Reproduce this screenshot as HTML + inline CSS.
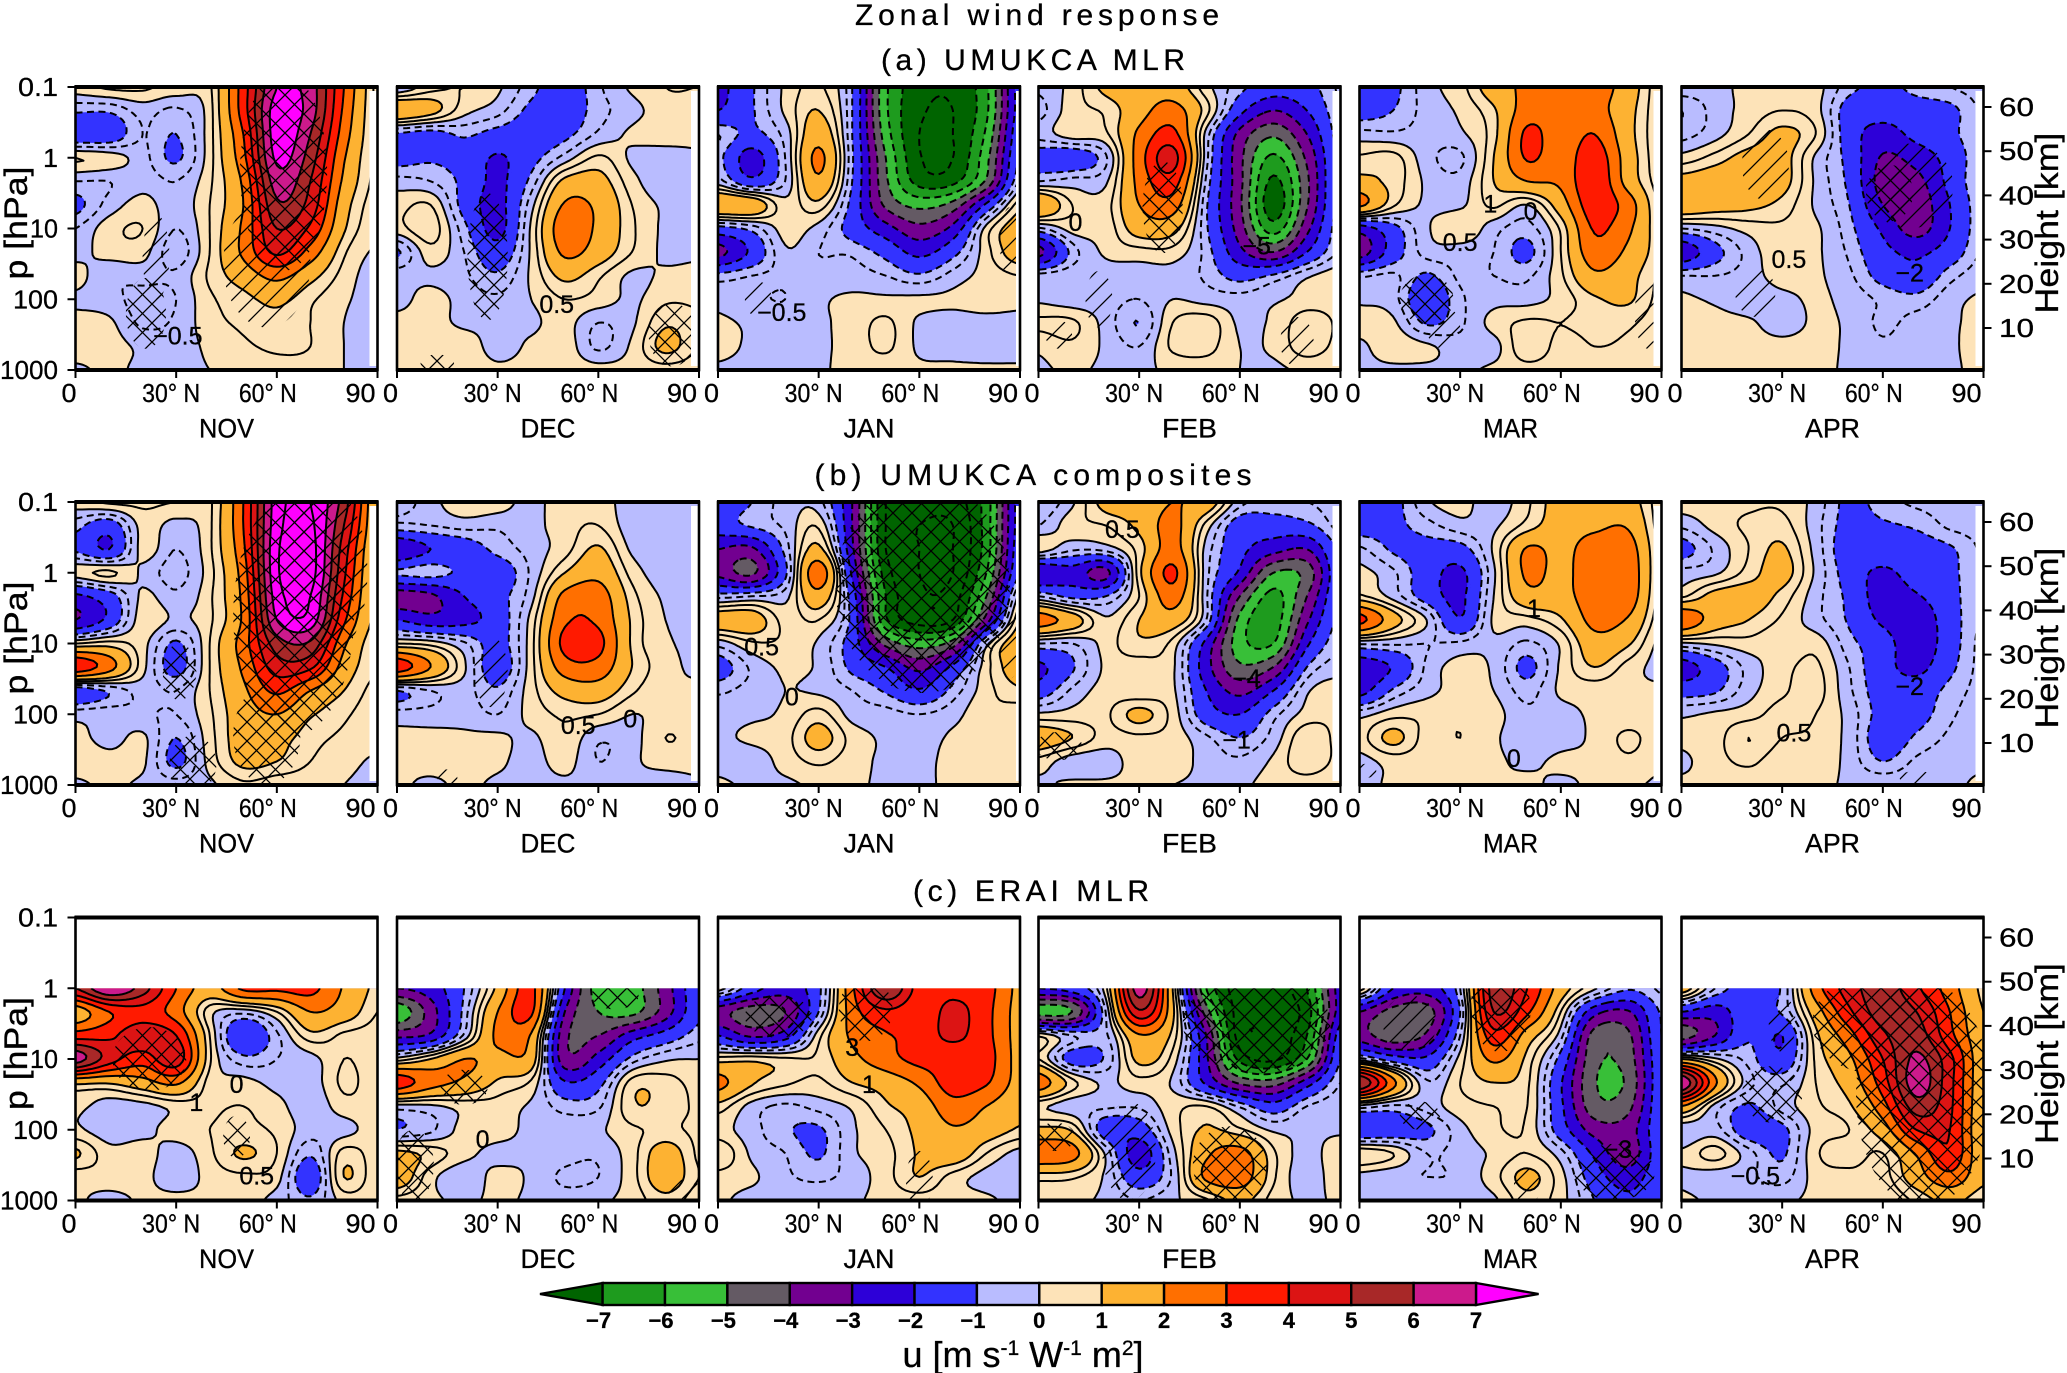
<!DOCTYPE html>
<html lang="en">
<head>
<meta charset="utf-8">
<title>Zonal wind response</title>
<style>
html,body{margin:0;padding:0;background:#fff;}
svg{display:block;}
text{font-family:"Liberation Sans",sans-serif;fill:#000;stroke:#000;stroke-width:.3px;}
</style>
</head>
<body>
<svg id="figure" xmlns="http://www.w3.org/2000/svg" width="2067" height="1373" viewBox="0 0 2067 1373">
<defs>
<pattern id="hatch-single" patternUnits="userSpaceOnUse" width="19" height="19"><path d="M-2 21L21 -2M-2 2L2 -2M17 21L21 17" stroke="#000" stroke-width="1.3" fill="none"/></pattern>
<pattern id="hatch-cross" patternUnits="userSpaceOnUse" width="19" height="19"><path d="M-2 21L21 -2M-2 2L2 -2M17 21L21 17M-2 -2L21 21M-2 17L2 21M17 -2L21 2" stroke="#000" stroke-width="1.3" fill="none"/></pattern>
</defs>
</svg>
<script>
/* Axes */
const latitudes = [0,10,20,30,40,50,60,70,80,90];
const pressureFull = [0.1,0.215,0.464,1,2.15,4.64,10,21.5,46.4,100,215,464,1000];
const pressureErai = [1,2.15,4.64,10,21.5,46.4,100,215,464,1000];
const months = ["NOV","DEC","JAN","FEB","MAR","APR"];
const rowTitles = ["(a) UMUKCA MLR","(b) UMUKCA composites","(c) ERAI MLR"];
const latTicks = [0,30,60,90];
const latTickLabels = ["0","30° N","60° N","90"];
const pressureTicks = [0.1,1,10,100,1000];
const pressureTickLabels = ["0.1","1","10","100","1000"];
const heightTicks = [10,20,30,40,50,60];
const bandEdges = [-7,-6,-5,-4,-3,-2,-1,0,1,2,3,4,5,6,7];
const contourLevels = [-12,-11,-10,-9,-8,-7,-6,-5,-4,-3,-2,-1,-0.5,0,0.5,1,2,3,4,5,6,7,8,9,10];

/* Row (a) UMUKCA MLR: rows follow pressureFull, columns follow latitudes */
const aNov = [
[.3,.6,.6,.3,.4,3.5,7,6.5,3,.3],
[-.9,-.9,-.3,-.6,.3,3.5,7.5,6.5,2.8,.3],
[-1.7,-1.6,-.5,-1,.3,3,7.5,6,2.5,.3],
[.5,.3,-.3,-1.1,.3,2.7,7.2,5.5,2.1,.3],
[-.5,-.5,-.2,-.5,.4,2.2,6.5,5,1.8,.3],
[-1.2,-.3,.2,-.3,.5,2,5.8,4.6,1.4,.2],
[-.5,.3,.5,-.5,.5,2.2,5,3.8,1.1,.1],
[-.2,.2,.2,-.8,.5,2.2,4.2,2.6,.6,-.1],
[.2,-.4,-.3,-.4,.6,1.4,2.3,1.3,.3,-.3],
[-.1,-.3,-.7,-.5,.4,.8,1.2,.6,.1,-.3],
[.2,.1,-.6,-.4,.3,.6,.8,.5,0,-.4],
[.3,.2,-.1,-.2,.1,.4,.6,.5,0,-.3],
[-.1,.1,-.1,-.1,0,.1,.3,.3,0,-.2]];
const aDec = [
[-.5,.3,.5,.1,-.8,-1.5,-.6,.1,.5,.5],
[1.8,1.3,.2,-.3,-1.2,-1.5,-.7,-.2,.3,.3],
[-1.1,-1.3,-.9,-1.3,-1.5,-1.2,-.4,.1,.3,.2],
[-1.3,-1.1,-1.3,-2.1,-1.3,-.3,.6,-.1,-.3,-.1],
[-.3,-.5,-1.2,-2.2,-.8,1.2,1.3,.2,-.4,-.1],
[.3,.5,-1.3,-2.3,-.2,2.1,1.8,.5,-.1,-.1],
[.3,.8,-.8,-2.3,.1,2.6,1.8,.6,-.1,-.1],
[-1.1,.3,-.5,-1.6,.1,2.2,1.5,.5,-.1,-.1],
[-.2,-.1,-.4,-.9,.1,1.2,.6,-.1,.1,.2],
[-.2,.2,-.2,-.4,0,.5,.3,-.1,.4,.4],
[.2,.2,-.1,-.1,-.1,.2,-.5,-.1,.9,.6],
[.3,.3,.3,-.2,.1,.3,-.6,.1,1.2,.5],
[.3,.3,.3,.1,.2,.3,.2,.2,.3,.2]];
const aJan = [
[-2.3,-1.1,.1,.6,-1,-5.8,-7.6,-7.8,-6.2,-1.5],
[-2,-1.1,.1,1,-1,-5.8,-7.8,-8,-6.2,-1.5],
[-.5,-1.2,-.3,1.6,-1,-5.5,-8,-8,-5.8,-1.2],
[-.8,-2.4,-.5,2.2,-.9,-5,-7.9,-8,-5.3,-.9],
[-.3,-1.7,-.5,1.8,-1,-4.8,-7.4,-7.3,-4.8,-.4],
[1.9,1.7,.2,.8,-1.3,-4.2,-5.3,-4.6,-1.8,.8],
[-1.3,-.8,.2,-.2,-1.4,-2.6,-3.7,-2.7,.2,1.5],
[-3.3,-1.8,-.1,-.5,-.6,-1.3,-2.3,-1.3,.3,1.5],
[-.8,-.5,-.4,-.3,-.3,-.5,-.9,-.3,.2,.5],
[-.2,-.4,-.5,-.1,.1,.1,.1,.1,.3,.2],
[.1,-.1,-.3,-.1,.2,.6,-.1,-.2,-.2,-.2],
[.2,-.1,-.2,-.1,.2,.6,-.1,-.2,-.3,-.3],
[-.1,-.2,-.2,-.1,.2,.2,.1,.1,.1,.1]];
const aFeb = [
[-.4,.2,1.2,1.5,1.5,.2,-.8,-1.5,-1.3,-.4],
[-.7,.3,.6,1.6,2.4,.7,-1.7,-3,-2,-.5],
[-.3,.3,.4,2.2,3.3,-.2,-3.3,-4.8,-3,-.6],
[-1.4,-1.6,-.6,2.5,4.4,-.3,-3.7,-6.2,-3.8,-.7],
[-.5,-.3,-.1,2.3,3.5,-.6,-3.7,-7.2,-4.2,-.6],
[2,.5,.3,2,2.5,-.9,-3.8,-7.6,-4.1,-.6],
[-.6,.2,.2,1.4,1.3,-.9,-3.5,-6.5,-3.3,-.5],
[-3.3,-.8,.1,.3,.3,-.7,-2.7,-4,-2,-.4],
[-.3,-.2,-.3,-.3,-.2,-.6,-1.3,-.9,-.1,.3],
[-.1,-.3,-.3,-.5,0,-.2,-.3,-.1,.2,.3],
[.6,.6,-.2,-1,.5,.8,-.1,.1,.8,.4],
[.1,.4,-.1,-.5,.6,.7,0,.1,.8,.3],
[-.1,.1,-.1,-.1,.1,.2,0,-.1,.1,0]];
const aMar = [
[-1.5,-1.2,-.2,.3,1.5,2.2,2.5,2.5,1.5,.1],
[-1.4,-1,-.3,.1,.9,2.5,2.5,2.4,1.3,.1],
[-.3,-.4,-.3,-.1,.8,3.2,2.4,3,1.3,.1],
[.6,.7,-.3,-.6,1,3.1,2.4,3.6,1.5,.1],
[1.2,.8,-.1,-.3,1,2,2.2,3.8,1.6,.2],
[2.2,.6,-.1,-.1,.6,0,1.5,3.6,2.5,.3],
[-2.5,-1.3,-.1,.5,-.3,-.7,.6,3.1,2.2,.5],
[-3.5,-1.5,-.3,-.3,-.5,-1.2,.5,2.6,1.8,.6],
[-.6,-.4,-1.1,-.4,-.5,-.6,.4,1.8,1.3,.4],
[-.1,-.3,-1.7,-.6,-.2,-.2,.2,.9,1.1,.3],
[.2,.1,-1.1,-.6,.2,.6,.5,.7,.6,.2],
[-.1,.3,.1,-.3,-.2,.9,.3,.5,.4,.1],
[-.1,-.1,-.1,-.1,.1,.3,.2,.3,.3,0]];
const aApr = [
[-.2,-.2,.2,.3,.2,-.8,-1.2,-.8,-.5,-.3],
[-1,-.3,.2,.5,.2,-1.4,-1.6,-1.4,-1.2,-.4],
[-.7,-.2,.5,1.2,.5,-1.5,-2.4,-1.7,-1.2,-.5],
[.2,.7,1.3,1.3,-.1,-1.3,-3.1,-2.6,-1.6,-.5],
[1.3,1.5,1.6,1.3,-.1,-1.2,-3.4,-3.3,-1.7,-.4],
[1.7,1.4,1.2,.8,-.1,-1,-3,-3.6,-2,-.5],
[-.5,-.2,.2,.4,.1,-.8,-2.2,-3.4,-2,-.5],
[-2.7,-1.3,-.3,.4,.1,-.6,-1.7,-2.2,-1.5,-.4],
[-.5,-.5,-.3,.3,.1,-.4,-1.3,-1.7,-.7,-.2],
[.1,-.1,-.4,-.2,.1,-.2,-.6,-.8,-.2,.1],
[.2,.2,.1,-.3,.1,-.1,-.6,-.3,-.1,.2],
[.2,.2,.2,.2,.2,-.1,-.4,-.2,-.1,.3],
[0,.2,.2,.2,.2,-.1,-.1,-.1,-.1,.2]];

/* Row (b) UMUKCA composites */
const bNov = [
[.3,.6,.6,.5,.4,3,7.5,8,5.5,1],
[-.8,-1.5,.2,-.2,.4,3,7.6,8.2,5,1],
[-1.1,-2,.2,-.5,.4,2.8,7.8,8.4,4.5,.8],
[.3,.6,-.1,-.7,.3,2.5,7.8,8.4,4.2,.7],
[-2.2,-1.4,.1,-.4,.4,2.3,7.5,8,3.8,.7],
[-3,-1.7,.3,-.1,.4,2.2,7,7.6,3.2,.7],
[.5,.7,.2,-1.1,.5,2.5,5.5,5.8,2.2,.5],
[3.7,2.4,.2,-1.3,.5,2.2,4.5,4.2,1.6,.5],
[-1.5,-.9,-.3,-.5,.5,1.8,3.2,2,1,.3],
[-.2,-.2,-.4,-.5,.4,1.5,2,1.1,.6,.2],
[.2,-.2,.1,-1,.3,1.4,1.3,.7,.4,.2],
[.3,.2,.1,-1.2,.2,1.2,1,.5,.2,-.1],
[-.1,.1,-.1,-.3,-.1,.4,.2,.2,0,-.2]];
const bDec = [
[-.8,-.2,.4,.3,-.2,.4,.3,-.3,-.3,-.3],
[-.6,-.5,-.3,-.4,-.2,.3,.5,-.3,-.3,-.2],
[-3,-2,-1.5,-.8,-.3,.3,1.1,-.1,-.3,-.2],
[-.9,-.7,-1.2,-1.5,-.4,1,1.7,.3,-.3,-.2],
[-3.5,-3.2,-2,-1.3,-.2,2.3,2.5,.7,-.1,-.2],
[-2,-2.6,-2.3,-1.5,.2,2.8,2.8,.9,0,-.1],
[.5,.3,-.4,-1.3,.3,3.3,3.3,.9,.1,-.1],
[3.6,2,.1,-1.5,.3,2.5,2.6,1,.2,-.1],
[-1,-.5,-.3,-.9,.3,1.3,1.5,.6,.1,.1],
[-.3,-.3,-.2,-.5,.2,.6,.5,0,.2,.2],
[.2,.2,.1,.1,-.1,.4,-.4,-.2,.5,.3],
[.1,.2,.2,.1,-.2,.2,-.5,-.1,.2,.2],
[.1,-.1,.1,-.1,-.2,-.1,-.1,-.1,-.3,-.1]];
const bJan = [
[-1.6,-1,-.3,-.3,-3,-8,-8.5,-8.5,-6.5,-1.5],
[-1.4,-.9,-.4,.4,-3,-8,-9,-9,-6.5,-1.5],
[-3,-3.2,-.8,1.2,-2.8,-8,-9,-9,-6.5,-1.3],
[-3.3,-4.2,-1.2,2.6,-2.2,-7.5,-9,-9,-6,-1],
[-.7,-.5,-.2,1.6,-1.5,-7,-8.8,-8.5,-5,.2],
[1.5,1.5,.3,.5,-1.3,-6.8,-8.5,-8,-3.5,1],
[-.3,.4,.4,-.1,-1.5,-4.3,-5.5,-4.5,-.2,1.6],
[-1.4,-.4,.1,-.1,-1.2,-2,-3.3,-1.8,.3,1.5],
[-.6,-.3,0,-.1,-.5,-1.1,-1.9,-.8,.3,.9],
[-.2,-.1,.1,.7,-.2,-.3,-.5,-.2,.4,.2],
[-.1,.1,.3,1.3,.3,-.1,-.3,.1,.2,.2],
[-.2,-.3,.2,.6,.2,-.1,-.2,.2,.2,.2],
[.1,-.1,-.1,.1,.1,-.1,-.1,.1,.1,0]];
const bFeb = [
[-1,-.1,1.3,1.4,2,1.6,-.3,-.6,-.5,-.3],
[-.5,.3,.5,1.2,2.3,.3,-1.5,-1.5,-1.2,-.3],
[.3,-.4,-.3,.7,2.4,-.2,-1.7,-2.6,-3,-.8],
[-3,-2.4,-3.3,.8,3.2,-.3,-2.2,-5,-4.6,-1],
[-.5,-1.2,-1,.5,2.5,-.4,-4,-6.3,-4,-.9],
[2.5,1.5,.1,1,1.5,-.5,-5.3,-6.5,-3.2,-.7],
[-.5,-.5,.2,.9,.3,-2.3,-5.6,-6,-2.2,-.5],
[-2.2,-1.1,.1,.2,.1,-2.6,-4.8,-4,-1,-.2],
[-1.5,-.4,.2,.1,.1,-2,-3.3,-2,-.1,.3],
[.1,.2,.4,1.2,.3,-1.5,-2,-.7,.2,.4],
[1.5,1,.3,.4,.3,-.4,-1,-.3,.9,.3],
[.3,-.3,-.3,.3,.3,-.2,-.4,.1,.9,.3],
[-.1,.1,.1,.1,0,-.1,-.1,.2,.2,0]];
const bMar = [
[-1.5,-1.3,-.1,.2,-.3,.4,1.4,1.5,1.4,.2],
[-1.4,-1.2,-.7,-.2,-.1,.7,1.5,1.8,1.9,.2],
[-.4,-1.1,-1.3,-1.3,.1,2.1,1.7,2.5,2.5,.3],
[.2,-.4,-1.5,-2.2,-.1,2.2,1.7,2.7,2.7,.3],
[.6,-.2,-1.4,-2.2,0,1.6,1.6,2.6,2.6,.2],
[3.3,1.4,0,-1.9,.1,.3,.9,2.3,1.9,.1],
[-.4,-.4,-.5,-.4,-.1,-.6,.1,1.6,1.1,-.2],
[-2.7,-1.9,-.4,.2,-.1,-1.2,.1,1,.3,-.2],
[-2.4,-.9,-.2,.2,0,-.7,.1,.2,.1,.1],
[-.2,.3,.4,.4,.2,-.4,-.2,.1,.2,.2],
[.3,1.2,.3,.5,.1,-.4,-.2,.1,.6,.2],
[-.2,.2,.2,.3,.1,-.1,.1,.1,.4,.1],
[-.2,.1,.2,.2,0,.1,-.1,.1,.1,-.1]];
const bApr = [
[.3,.3,.4,.4,-.2,-1.2,-.7,-.4,-.3,-.2],
[-.4,.2,.6,.7,-.3,-1.3,-1.1,-.9,-.4,-.3],
[-1.3,-.4,.5,1.1,-.2,-1.5,-1.3,-1.4,-1.1,-.4],
[-.3,-.1,.7,1.3,-.1,-1.4,-2.2,-1.5,-1.2,-.4],
[.4,1.3,1.4,.8,-.3,-1.2,-2.5,-2.1,-1.3,-.4],
[2.9,1.5,1,.4,-.3,-1.1,-2.2,-2.7,-1.4,-.4],
[-.1,.1,.3,.1,.3,-.8,-1.5,-2.7,-1.4,-.3],
[-2.5,-1.4,-.3,.3,.6,-.5,-1.6,-2.3,-1.2,-.3],
[-1.4,-1.1,-.2,.4,.7,-.4,-1.4,-1.5,-.8,-.3],
[-.1,.1,.3,.7,.5,-.2,-1.3,-1.3,-.6,-.2],
[.1,.3,1,.5,.4,-.2,-1.5,-.9,-.4,-.2],
[-.1,.3,.6,.2,.4,-.2,-1,-.4,-.2,-.1],
[.1,.1,.2,.2,.2,-.1,-.1,-.1,-.1,.1]];

/* Row (c) ERAI MLR: rows follow pressureErai */
const cNov = [
[5,7,5.5,3,1.6,3.2,3.2,3.3,1.9,.8],
[1.4,3,3.6,2.5,.2,-.3,.5,2,1.5,.5],
[3.5,3.8,4.6,4,.5,-1.9,-.6,.8,.4,.3],
[6.5,4.5,3.5,4.6,.6,-.8,-.5,-.2,.5,.2],
[1.2,1.1,1.6,2.2,.3,.2,-.2,-.3,.6,.2],
[.2,-.3,-.2,.2,.4,.5,.2,-.4,.3,.3],
[.1,-.3,-.2,.3,.5,.6,.4,-.3,-.2,.3],
[1.1,.2,.3,-.3,.4,1.1,.5,-.9,.7,.2],
[.2,.3,.2,-.4,.2,.4,.2,-1.6,1,.1],
[.1,-.2,.1,.2,.1,.2,-.2,-.9,.2,.1]];
const cDec = [
[-3,-2.5,-1,1.2,3.3,-2,-5.5,-5.5,-3.5,-1.2],
[-5.8,-3.5,-.8,2,3.2,-3,-5,-5.3,-3.5,-1.2],
[-3.3,-2.8,-.4,2.2,1.9,-3.7,-4,-2.5,-1.6,-.7],
[.2,1,2,1.7,1.5,-3.6,-2.6,-.8,-.1,0],
[3.6,2.4,1.8,.9,.4,-1.9,-1.3,.7,.7,.3],
[-.2,-.1,.2,.3,-.1,-.7,-.6,.9,.8,.4],
[-1,-.6,.2,.3,-.2,-.3,-.1,.4,.6,.4],
[1.2,.8,.2,-.2,-.1,-.3,-.4,.3,1.4,.4],
[1.6,.2,-.4,.2,-.1,-.6,-.5,.3,1.5,.5],
[.3,.1,-.1,.1,-.1,-.3,-.1,.2,.8,.2]];
const cJan = [
[.3,-1.5,-2.5,-1.2,2.8,6,3.6,3.7,3.4,1.7],
[-3.6,-4.5,-4,-1,2.5,3.8,3.3,4.3,3.3,1.6],
[-2,-3.2,-2.5,.3,2.2,2.9,3.4,4.2,3.3,1.6],
[.7,.8,.6,.6,1.7,2.6,3.3,3.4,3.4,1.6],
[2.3,1.1,.6,.4,1,1.4,2.2,3.5,3.1,1.6],
[.8,-.2,-.6,-.3,.1,.9,1.4,2.6,2,1.2],
[.2,-.3,-.9,-1.1,-.1,.5,1.2,1.9,1.5,.9],
[1,-.1,-.5,-1.1,-.1,.3,1.1,1.6,.5,-.2],
[.3,.1,-.4,-.6,-.3,.3,1,.3,-.2,-.4],
[.1,-.2,-.2,-.2,-.1,.2,.3,.2,.1,-.2]];
const cFeb = [
[-2,-1.5,.3,6.5,1,-6,-8.5,-8.5,-7,-2.5],
[-5.5,-5,-.5,4.8,1.2,-4.5,-8.5,-8.5,-7.5,-2.5],
[.4,-.5,-.6,1.9,.8,-3,-8.5,-8.5,-7,-1.5],
[.5,-1.4,-.9,1.2,.3,-2.8,-7.3,-8.2,-6,-1],
[2.6,.7,-.1,.3,-.1,-2.2,-4.2,-4.5,-2.5,-.5],
[.1,-.3,-.4,-.4,.3,.5,-.6,-1.6,-.5,-.2],
[1.2,.9,-1.5,-1.5,.2,1.1,.6,-.1,-.1,-.1],
[2.8,2.4,-.1,-2.5,-.2,1.8,2.4,.6,-.2,.4],
[.7,.6,-.1,-1.6,-.4,2.2,2.6,.6,-.3,.4],
[.1,.1,-.1,-.5,-.1,.4,1.2,.3,-.1,.1]];
const cMar = [
[.8,-2,-2.5,-.5,5.5,4,1.5,.1,-.9,-.4],
[-3,-4.4,-4.5,-1,5,3.2,.5,-2.6,-3.1,-.9],
[-3.5,-4.7,-3.8,-.5,3.6,1.5,-.3,-4.4,-4.2,-1],
[-.3,-1.5,-1.8,.2,2.2,.8,-1.3,-4.7,-4.5,-1.2],
[6,2.3,-.4,.5,1,.6,-1.9,-4.9,-4.8,-1.2],
[-.2,-.6,-.3,.3,.5,.5,-1.8,-4.6,-4.3,-1.2],
[-1.8,-1.6,-1.2,-.2,.4,.4,-1.5,-3.4,-3.5,-1.2],
[.9,.5,-.5,-.3,.1,.5,-.3,-2.2,-3.6,-1.3],
[-.2,-.4,-.5,-.4,.3,1.2,.2,-1.5,-2.5,-1.3],
[-.1,-.1,-.2,-.3,-.1,.8,.2,-1,-1.8,-1.1]];
const cApr = [
[1.5,-.5,-1.4,-.9,2.5,4.5,5.5,4.2,2.5,.8],
[-2,-2.5,-1.2,-.9,1.5,3.8,5.5,5,3,1],
[-4.5,-3,-1.1,-2,.8,2.6,4.8,5.5,3.3,1.2],
[1,.1,-.7,-1.7,.6,1.8,4,6.2,4.3,1.2],
[7,2.2,-.3,-.6,.5,1.4,3.5,6.5,4.3,1.2],
[2,-.2,-1.1,-.3,.4,.9,2.6,5.5,4.2,1.1],
[-.4,-.3,-1.5,-1.2,.2,.5,1.5,4,4,1],
[.1,.7,-.3,-1.1,.4,.8,.5,2.1,3.8,1.1],
[-.1,-.3,-.4,-.7,.2,.3,.3,1.5,2.7,1.2],
[.1,-.1,-.2,-.1,.1,.1,.1,.6,1.2,.6]];

/* Significance regions: latitude, log10(p), latitude radius, log10(p) radius, crossed */
const aNovSig = [[62,.2,13,1.4,1],[57,1.5,13,.9,0],[21,2.2,6,.5,1],[24,1.4,4,.6,0]];
const aDecSig = [[27,1.4,6,.9,1],[82,2.5,7,.45,1],[12,2.9,5,.12,1]];
const aJanSig = [[87,1.2,3,.5,0],[12,2,4,.25,0]];
const aFebSig = [[37,.7,6,.65,1],[18,2,4,.4,0],[6,2.5,4,.2,0],[77,2.6,5,.35,0]];
const aMarSig = [[20,2,8,.35,1],[25,2.4,5,.3,0],[86,2.2,4,.5,0]];
const aAprSig = [[25,.1,7,.5,0],[68,.4,13,.6,0],[62,.5,7,.4,1],[22,1.9,6,.35,0]];
const bNovSig = [[65,.6,18,1.7,1],[57,2.3,10,.7,1],[31,1.4,5,.4,1],[35,2.7,7,.4,1],[75,0,12,1.2,0]];
const bDecSig = [[28,1.4,5,.5,0],[15,2.9,3,.12,0]];
const bJanSig = [[61,.2,26,1.5,1],[87,1,3,.5,0]];
const bFebSig = [[6,2.45,7,.2,1]];
const bMarSig = [[2,2.8,3,.1,0]];
const bAprSig = [[70,2.9,5,.1,0]];
const cNovSig = [[22,1,11,.45,1],[48,2.1,4,.3,1]];
const cDecSig = [[20,1.4,7,.25,1],[5,2.5,6,.5,1],[65,.1,7,.2,1],[86,2.9,5,.2,0]];
const cJanSig = [[44,.3,8,.45,1],[18,.4,10,.3,1],[60,2.7,4,.4,0]];
const cFebSig = [[65,.5,22,.7,1],[5,2.1,6,.2,1],[27,2.3,8,.7,0],[57,2.5,11,.55,1]];
const cMarSig = [[42,.3,9,.6,1],[15,.5,8,.4,0],[18,1.8,6,.2,1],[76,2.6,12,.4,1],[50,2.8,4,.25,0]];
const cAprSig = [[72,1.5,20,1.6,1],[57,.5,18,.7,1],[30,.5,4,.4,0],[27,1.5,9,.4,1]];

/* Printed contour labels: latitude, log10(p), text */
const aNovLabels = [[30.5,2.51,"−0.5"]];
const aDecLabels = [[47.6,2.07,"0.5"]];
const aJanLabels = [[19,2.18,"−0.5"]];
const aFebLabels = [[11,.91,"0"],[65,1.24,"−5"]];
const aMarLabels = [[39,.65,"1"],[51,.75,"0"],[30,1.19,"0.5"]];
const aAprLabels = [[32,1.43,"0.5"],[68,1.62,"−2"]];
const bNovLabels = [];
const bDecLabels = [[54,2.15,"0.5"],[69.5,2.06,"0"]];
const bJanLabels = [[13,1.04,"0.5"],[22,1.75,"0"]];
const bFebLabels = [[25,-.62,"0.5"],[62,1.49,"−4"],[59,2.36,"−1"]];
const bMarLabels = [[52,.5,"1"],[46,2.62,"0"]];
const bAprLabels = [[68,1.6,"−2"],[33.5,2.26,"0.5"]];
const cNovLabels = [[36,1.61,"1"],[48,1.35,"0"],[54,2.65,"0.5"]];
const cDecLabels = [[25.5,2.13,"0"]];
const cJanLabels = [[40,.83,"3"],[45,1.35,"1"]];
const cFebLabels = [];
const cMarLabels = [[77,2.27,"−3"]];
const cAprLabels = [[22,2.65,"−0.5"]];

/* Layout and styling */
const bandColors = ["#1e9b1e","#38bf38","#645a64","#720090","#2d00d8","#3333ff","#b9bcff","#fde3b8","#fdb232","#ff6f00","#ff1a00","#dc1414","#a82828","#cc1a8c","#ff00ff"];
const belowColor = "#006400";
const panelLefts = [75.5,397,718,1038.5,1359.5,1681.5];
const rowTops = [87,502,917.5];
const panelW = 302, panelH = 283;
const latTickOffsets = [-6.5,-5,-9,-17];
const latTickWidths = [15,58,58,30];
const pressureTickWidths = [40,15,28,45,58];

const rowsOfPanels = [
 {grids:[aNov,aDec,aJan,aFeb,aMar,aApr],sig:[aNovSig,aDecSig,aJanSig,aFebSig,aMarSig,aAprSig],labels:[aNovLabels,aDecLabels,aJanLabels,aFebLabels,aMarLabels,aAprLabels],levels:pressureFull},
 {grids:[bNov,bDec,bJan,bFeb,bMar,bApr],sig:[bNovSig,bDecSig,bJanSig,bFebSig,bMarSig,bAprSig],labels:[bNovLabels,bDecLabels,bJanLabels,bFebLabels,bMarLabels,bAprLabels],levels:pressureFull},
 {grids:[cNov,cDec,cJan,cFeb,cMar,cApr],sig:[cNovSig,cDecSig,cJanSig,cFebSig,cMarSig,cAprSig],labels:[cNovLabels,cDecLabels,cJanLabels,cFebLabels,cMarLabels,cAprLabels],levels:pressureErai}
];

const NS = "http://www.w3.org/2000/svg";
const svg = document.getElementById("figure");

function mk(tag, parent, attrs){
  const e = document.createElementNS(NS, tag);
  for (const k in attrs) e.setAttribute(k, attrs[k]);
  parent.appendChild(e);
  return e;
}
function addText(parent, str, x, y, size, anchor, width, name, rotate, adjust){
  const t = mk("text", parent, {x:x, y:y, "font-size":size, "text-anchor":anchor});
  
  
  if (width) { t.setAttribute("textLength", width); t.setAttribute("lengthAdjust", adjust || "spacingAndGlyphs"); }
  if (rotate) t.setAttribute("transform", "rotate(" + rotate + " " + x + " " + y + ")");
  t.textContent = str;
  return t;
}

function xScale(left, lat){ return left + lat / 90 * panelW; }
function yScale(top, logP){ return top + (logP + 1) / 4 * panelH; }
function heightScale(top, km){ return top + 20 + (60 - km) * 4.42; }

function cr(a,b,c,d,t){
  return 0.5*(2*b+(c-a)*t+(2*a-5*b+4*c-d)*t*t+(3*b-a-3*c+d)*t*t*t);
}
function sampleGrid(grid, u, v){
  const nr = grid.length, nc = grid[0].length;
  const i = Math.min(Math.floor(v), nr-2), j = Math.min(Math.floor(u), nc-2);
  const tv = v-i, tu = u-j;
  const rowVals = [];
  for (let k=-1;k<=2;k++){
    const r = grid[Math.max(0,Math.min(nr-1,i+k))];
    rowVals.push(cr(r[Math.max(0,j-1)],r[j],r[j+1],r[Math.min(nc-1,j+2)],tu));
  }
  return cr(rowVals[0],rowVals[1],rowVals[2],rowVals[3],tv);
}

function buildField(grid, levels, left, top){
  const perLat = 10, perLev = 8;
  const nx = (grid[0].length-1)*perLat, ny = (grid.length-1)*perLev;
  const X = [], Y = [], V = [];
  for (let j=0;j<=nx;j++){
    const u = j/perLat, k = Math.min(Math.floor(u), latitudes.length-2);
    X.push(xScale(left, latitudes[k] + (latitudes[k+1]-latitudes[k])*(u-k)));
  }
  for (let i=0;i<=ny;i++){
    const v = i/perLev, k = Math.min(Math.floor(v), levels.length-2);
    const a = Math.log10(levels[k]), b = Math.log10(levels[k+1]);
    Y.push(yScale(top, a + (b-a)*(v-k)));
    const row = [];
    for (let j=0;j<=nx;j++) row.push(sampleGrid(grid, j/perLat, v));
    V.push(row);
  }
  return {X,Y,V,nx,ny};
}

function bandPath(f, L){
  const {X,Y,V,nx,ny} = f;
  const out = [];
  for (let i=0;i<ny;i++){
    let run = -1;
    for (let j=0;j<=nx;j++){
      let full = false, a,b,c,d;
      if (j<nx){
        a=V[i][j]; b=V[i][j+1]; c=V[i+1][j+1]; d=V[i+1][j];
        full = a>=L && b>=L && c>=L && d>=L;
      }
      if (full){ if (run<0) run=j; continue; }
      if (run>=0){
        out.push("M"+X[run].toFixed(1)+" "+Y[i].toFixed(1)+"H"+X[j].toFixed(1)+"V"+Y[i+1].toFixed(1)+"H"+X[run].toFixed(1)+"Z");
        run=-1;
      }
      if (j===nx) break;
      if (a<L && b<L && c<L && d<L) continue;
      const x0=X[j],x1=X[j+1],y0=Y[i],y1=Y[i+1];
      const pts=[];
      if (a>=L) pts.push([x0,y0]);
      if ((a>=L)!==(b>=L)) pts.push([x0+(x1-x0)*(L-a)/(b-a),y0]);
      if (b>=L) pts.push([x1,y0]);
      if ((b>=L)!==(c>=L)) pts.push([x1,y0+(y1-y0)*(L-b)/(c-b)]);
      if (c>=L) pts.push([x1,y1]);
      if ((c>=L)!==(d>=L)) pts.push([x1+(x0-x1)*(L-c)/(d-c),y1]);
      if (d>=L) pts.push([x0,y1]);
      if ((d>=L)!==(a>=L)) pts.push([x0,y1+(y0-y1)*(L-d)/(a-d)]);
      out.push("M"+pts.map(p=>p[0].toFixed(1)+" "+p[1].toFixed(1)).join("L")+"Z");
    }
  }
  return out.join("");
}

function contourPath(f, L){
  const {X,Y,V,nx,ny} = f;
  const pos = {}, adj = {};
  function link(p,q){ (adj[p]=adj[p]||[]).push(q); (adj[q]=adj[q]||[]).push(p); }
  for (let i=0;i<ny;i++) for (let j=0;j<nx;j++){
    const a=V[i][j],b=V[i][j+1],c=V[i+1][j+1],d=V[i+1][j];
    const s=[];
    if ((a>=L)!==(b>=L)){ const k="h"+i+"_"+j; pos[k]=[X[j]+(X[j+1]-X[j])*(L-a)/(b-a),Y[i]]; s.push(k); }
    if ((b>=L)!==(c>=L)){ const k="v"+i+"_"+(j+1); pos[k]=[X[j+1],Y[i]+(Y[i+1]-Y[i])*(L-b)/(c-b)]; s.push(k); }
    if ((c>=L)!==(d>=L)){ const k="h"+(i+1)+"_"+j; pos[k]=[X[j]+(X[j+1]-X[j])*(L-d)/(c-d),Y[i+1]]; s.push(k); }
    if ((d>=L)!==(a>=L)){ const k="v"+i+"_"+j; pos[k]=[X[j],Y[i]+(Y[i+1]-Y[i])*(L-a)/(d-a)]; s.push(k); }
    if (s.length===2) link(s[0],s[1]);
    else if (s.length===4){ link(s[0],s[3]); link(s[1],s[2]); }
  }
  const used = {};
  let dStr = "";
  function walk(start){
    let cur=start, line=[cur];
    used[cur]=true;
    for(;;){
      const nxt=(adj[cur]||[]).find(n=>!used[n]);
      if(!nxt) break;
      used[nxt]=true; line.push(nxt); cur=nxt;
    }
    dStr += "M"+line.map(k=>pos[k][0].toFixed(1)+" "+pos[k][1].toFixed(1)).join("L");
    if (line.length>2 && (adj[cur]||[]).includes(start)) dStr += "Z";
  }
  for (const k in adj) if (!used[k] && adj[k].length===1) walk(k);
  for (const k in adj) if (!used[k]) walk(k);
  return dStr;
}

function drawPanel(rowIdx, colIdx){
  const spec = rowsOfPanels[rowIdx];
  const left = panelLefts[colIdx], top = rowTops[rowIdx];
  const panelId = "panel-" + "abc"[rowIdx] + "-" + months[colIdx].toLowerCase();
  const g = mk("g", svg, {});
  
  

  const clip = mk("clipPath", g, {id:"clip-"+panelId});
  mk("rect", clip, {x:left,y:top,width:panelW,height:panelH});
  const inner = mk("g", g, {"clip-path":"url(#clip-"+panelId+")"});

  const grid = spec.grids[colIdx], levels = spec.levels;
  const f = buildField(grid, levels, left, top);
  const fieldTop = f.Y[0];

  const base = mk("rect", inner, {x:left,y:fieldTop,width:panelW,height:top+panelH-fieldTop,fill:belowColor});
  
  

  bandEdges.forEach(function(L,idx){
    const d = bandPath(f, L);
    if (!d) return;
    const p = mk("path", inner, {d:d, fill:bandColors[idx]});
    
    
  });

  contourLevels.forEach(function(L){
    const d = contourPath(f, L);
    if (!d) return;
    const p = mk("path", inner, {d:d, fill:"none", stroke:"#000", "stroke-width":2, "stroke-linejoin":"round"});
    if (L<0) p.setAttribute("stroke-dasharray","7 4.5");
    
    
  });

  spec.sig[colIdx].forEach(function(s){
    const cx = xScale(left, s[0]), cy = yScale(top, s[1]);
    const rx = s[2]/90*panelW, ry = s[3]/4*panelH;
    const ell = mk("ellipse", inner, {cx:cx,cy:cy,rx:rx,ry:ry,fill:s[4]?"url(#hatch-cross)":"url(#hatch-single)"});
    
    
  });

  if (rowIdx===2){
    const blank = mk("rect", inner, {x:left,y:top,width:panelW,height:fieldTop-top,fill:"#fff"});
    
    
  } else {
    const strip = mk("rect", inner, {x:left+panelW-(colIdx===2?4:8),y:top+4,width:8,height:panelH-8,fill:"#fff"});
    
    
  }

  spec.labels[colIdx].forEach(function(l){
    addText(inner, l[2], xScale(left,l[0]), yScale(top,l[1])+9, 25, "middle", 0, "contour-label");
  });

  const frame = mk("rect", g, {x:left,y:top,width:panelW,height:panelH,fill:"none",stroke:"#000","stroke-width":2.6});
  
  
  const edges = mk("path", g, {d:"M"+(left-1)+" "+top+"H"+(left+panelW+1)+"M"+(left-1)+" "+(top+panelH)+"H"+(left+panelW+1),stroke:"#000","stroke-width":4,fill:"none"});
  
  

  latTicks.forEach(function(lat,i){
    const x = xScale(left,lat);
    const t = mk("line", g, {x1:x,x2:x,y1:top+panelH,y2:top+panelH+8,stroke:"#000","stroke-width":2});
    
    
    addText(g, latTickLabels[i], x+latTickOffsets[i], top+panelH+32, 26, "middle", latTickWidths[i], "x-tick-label");
  });
  addText(g, months[colIdx], left+panelW/2, top+panelH+67.5, 27, "middle", colIdx===2?51:55, "month-label");

  if (colIdx===0){
    pressureTicks.forEach(function(p,i){
      const y = yScale(top, Math.log10(p));
      const t = mk("line", g, {x1:left-8,x2:left,y1:y,y2:y,stroke:"#000","stroke-width":2});
      
      
      addText(g, pressureTickLabels[i], 58, y+9, 26, "end", pressureTickWidths[i], "y-tick-label");
    });
    addText(g, "p [hPa]", 27, top+136, 32, "middle", 113, "y-axis-title", -90);
  }
  if (colIdx===5){
    heightTicks.forEach(function(km){
      const y = heightScale(top, km);
      const t = mk("line", g, {x1:left+panelW,x2:left+panelW+8,y1:y,y2:y,stroke:"#000","stroke-width":2});
      
      
      addText(g, String(km), 1999, y+9, 26, "start", 35, "height-tick-label");
    });
    addText(g, "Height [km]", 2058, top+136, 32, "middle", 181, "height-axis-title", -90);
  }
}

for (let r=0;r<3;r++) for (let c=0;c<6;c++) drawPanel(r,c);

addText(svg, "Zonal wind response", 1037, 25, 30, "middle", 364, "figure-title", 0, "spacing");
const titleCentres = [[1033,304,70],[1033,437,485],[1031,236,901]];
rowTitles.forEach(function(t,i){
  addText(svg, t, titleCentres[i][0], titleCentres[i][2], 30, "middle", titleCentres[i][1], "row-title", 0, "spacing");
});

/* Colour bar */
(function(){
  const g = mk("g", svg, {});
  
  
  const x0 = 602.6, x1 = 1476, y0 = 1283, y1 = 1305, step = (x1-x0)/(bandEdges.length-1);
  const ym = (y0+y1)/2;
  const lo = mk("path", g, {d:"M540 "+ym+"L"+x0+" "+y0+"V"+y1+"Z",fill:belowColor,stroke:"#000","stroke-width":2.4});
  
  
  const hi = mk("path", g, {d:"M1538.6 "+ym+"L"+x1+" "+y0+"V"+y1+"Z",fill:bandColors[14],stroke:"#000","stroke-width":2.4});
  
  
  for (let i=0;i<bandEdges.length-1;i++){
    const r = mk("rect", g, {x:x0+i*step,y:y0,width:step,height:y1-y0,fill:bandColors[i],stroke:"#000","stroke-width":2.4});
    
    
  }
  bandEdges.forEach(function(v,i){
    addText(g, String(v).replace("-","−"), x0+i*step-(v<0?4:0), 1328, 22, "middle", 0, "colorbar-tick-label").setAttribute("font-weight","bold");
  });
  const u = mk("text", g, {x:1023,y:1367,"font-size":36,"text-anchor":"middle"});
  
  
  u.innerHTML = 'u [m s<tspan dy="-12" font-size="21">-1</tspan><tspan dy="12"> W</tspan><tspan dy="-12" font-size="21">-1</tspan><tspan dy="12"> m</tspan><tspan dy="-12" font-size="21">2</tspan><tspan dy="12">]</tspan>';
})();
</script>
</body>
</html>
